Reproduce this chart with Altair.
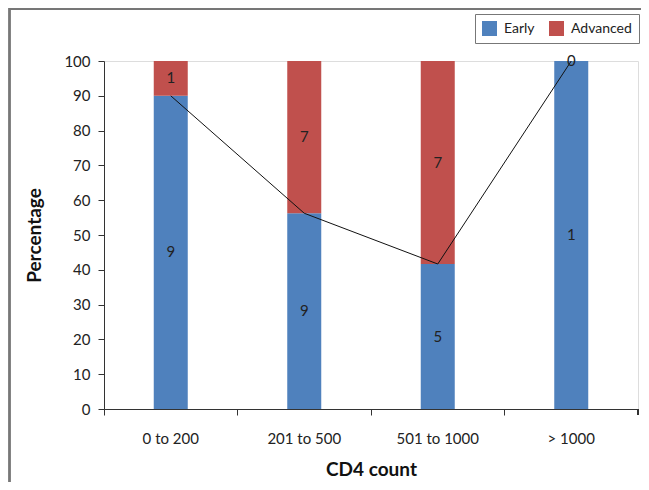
import altair as alt
import pandas as pd

categories = ["0 to 200", "201 to 500", "501 to 1000", "> 1000"]
early = [9, 9, 5, 1]
advanced = [1, 7, 7, 0]
statuses = ["Early", "Advanced"]
colors = ["#4F81BD", "#C0504D"]

rows = []
for c, e, a in zip(categories, early, advanced):
    rows.append({"cd4": c, "status": "Early", "count": e, "ord": 0})
    rows.append({"cd4": c, "status": "Advanced", "count": a, "ord": 1})
df = pd.DataFrame(rows)

FONT = "Lato"
W, H = 534, 348
PL, PT = 96, 53
PR, PB = 3, 73

base = alt.Chart(df).transform_joinaggregate(
    total="sum(count)", groupby=["cd4"]
).transform_calculate(pct="datum.count / datum.total * 100")

xscale = alt.Scale(domain=categories, paddingInner=0, paddingOuter=0)
yscale = alt.Scale(domain=[0, 100], nice=False)

xaxis = alt.Axis(
    title="CD4 count", labelAngle=0, bandPosition=0, tickSize=6, grid=False,
    labelFontSize=15, labelPadding=16, titleFontSize=19, titleFontWeight="bold",
    titlePadding=14, domainColor="#333", tickColor="#333", labelColor="#222",
    titleColor="#111", labelFont=FONT, titleFont=FONT,
)
yaxis = alt.Axis(
    title="Percentage", values=list(range(0, 101, 10)), grid=False,
    labelOverlap=False, tickSize=6, labelPadding=8, labelFontSize=15,
    titleFontSize=19, titleFontWeight="bold", titlePadding=19,
    domainColor="#333", tickColor="#333", labelColor="#222",
    titleColor="#111", labelFont=FONT, titleFont=FONT,
)

bars = base.mark_bar(size=34).encode(
    x=alt.X("cd4:N", sort=categories, scale=xscale, axis=xaxis),
    y=alt.Y("pct:Q", stack="zero", scale=yscale, axis=yaxis),
    color=alt.Color(
        "status:N", sort=statuses,
        scale=alt.Scale(domain=statuses, range=colors),
        legend=alt.Legend(
            title=None, orient="none", direction="horizontal",
            legendX=371, legendY=-47, symbolType="square", symbolSize=225,
            symbolStrokeWidth=0, labelFontSize=14, labelFont=FONT,
            labelColor="#222", strokeColor="#777", padding=7,
            columnPadding=14, labelOffset=7, symbolOpacity=1,
        ),
    ),
    order=alt.Order("ord:Q", sort="ascending"),
)

line = base.transform_filter(alt.datum.status == "Early").mark_line(
    color="#111", strokeWidth=1
).encode(
    x=alt.X("cd4:N", sort=categories, scale=xscale, axis=xaxis),
    y=alt.Y("pct:Q", scale=yscale, axis=yaxis),
)

labels = base.transform_stack(
    stack="pct", groupby=["cd4"], as_=["y0", "y1"],
    sort=[alt.SortField("ord", order="ascending")],
).transform_calculate(mid="(datum.y0 + datum.y1) / 2").mark_text(
    fontSize=15, font=FONT, color="#222", baseline="middle"
).encode(
    x=alt.X("cd4:N", sort=categories, scale=xscale, axis=xaxis),
    y=alt.Y("mid:Q", scale=yscale, axis=yaxis),
    text="count:Q",
)

frame_left = alt.Chart(df).mark_rule(color="#777", strokeWidth=1.5).encode(
    x=alt.value(-PL + 1.5), y=alt.value(-PT), y2=alt.value(H + PB)
)
frame_top = alt.Chart(df).mark_rule(color="#777", strokeWidth=1.5).encode(
    x=alt.value(-PL + 1.5), x2=alt.value(W + PR), y=alt.value(-PT + 0.75)
)
last_tick = alt.Chart(df).mark_rule(color="#333", strokeWidth=1).encode(
    x=alt.value(W), y=alt.value(H), y2=alt.value(H + 6)
)

chart = alt.layer(bars, line, labels, frame_left, frame_top, last_tick).properties(
    width=W, height=H,
    autosize=alt.AutoSizeParams(type="none"),
    padding={"left": PL, "top": PT, "right": PR, "bottom": PB},
).configure_view(stroke="transparent", strokeWidth=0).configure_axis(grid=False).configure(background="white")

chart.save("out.html", embed_options={"renderer": "svg", "actions": False})
